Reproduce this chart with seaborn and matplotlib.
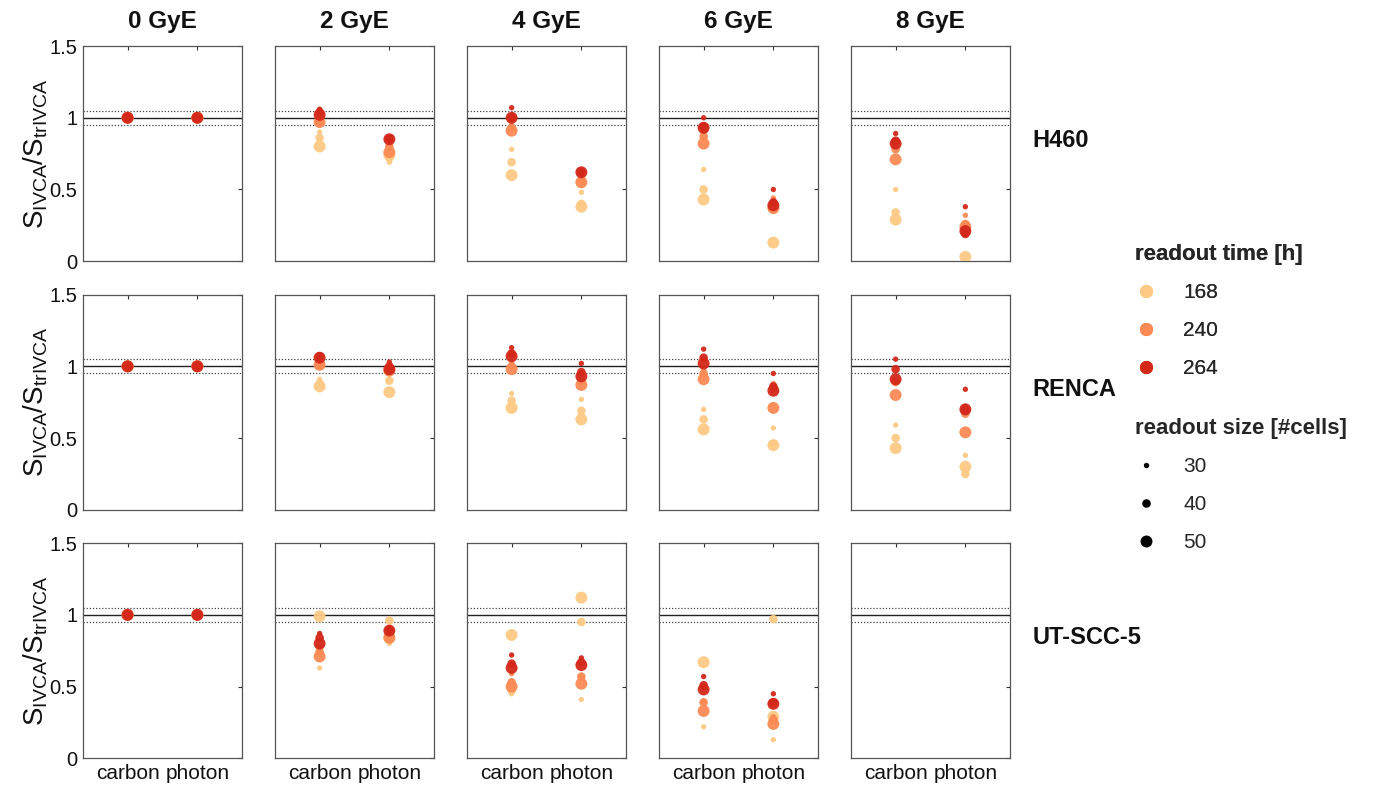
import numpy as np
import pandas as pd
import matplotlib
matplotlib.use("Agg")
import matplotlib.pyplot as plt
from matplotlib.lines import Line2D
import seaborn as sns

# ---- data -------------------------------------------------------------
doses = [0, 2, 4, 6, 8]
dose_labels = ["0 GyE", "2 GyE", "4 GyE", "6 GyE", "8 GyE"]
cell_lines = ["H460", "RENCA", "UT-SCC-5"]
radiations = ["carbon", "photon"]
readout_times = [168, 240, 264]
readout_sizes = [30, 40, 50]

# each list: 9 ratios ordered time 168 (30, 40, 50 cells), 240 (...), 264 (...)
ref = [1.0] * 9

h460_carbon = [ref,
               [0.90, 0.86, 0.80, 0.98, 0.97, 0.97, 1.06, 1.04, 1.02],
               [0.78, 0.69, 0.60, 0.95, 0.93, 0.91, 1.07, 1.00, 1.00],
               [0.64, 0.50, 0.43, 0.90, 0.87, 0.82, 1.00, 0.94, 0.93],
               [0.50, 0.34, 0.29, 0.80, 0.78, 0.71, 0.89, 0.84, 0.82]]
h460_photon = [ref,
               [0.69, 0.72, 0.74, 0.78, 0.80, 0.76, 0.85, 0.85, 0.85],
               [0.48, 0.40, 0.38, 0.57, 0.56, 0.55, 0.63, 0.62, 0.62],
               [0.40, 0.37, 0.13, 0.44, 0.38, 0.37, 0.50, 0.41, 0.39],
               [0.25, 0.23, 0.03, 0.32, 0.26, 0.24, 0.38, 0.19, 0.21]]
renca_carbon = [ref,
                [0.91, 0.88, 0.86, 1.02, 1.01, 1.01, 1.08, 1.07, 1.06],
                [0.81, 0.76, 0.71, 1.02, 1.00, 0.98, 1.13, 1.09, 1.07],
                [0.70, 0.63, 0.56, 0.98, 0.95, 0.91, 1.12, 1.06, 1.02],
                [0.59, 0.50, 0.43, 0.90, 0.89, 0.80, 1.05, 0.98, 0.91]]
renca_photon = [ref,
                [0.90, 0.90, 0.82, 0.96, 0.97, 0.97, 1.03, 1.00, 0.98],
                [0.77, 0.69, 0.63, 0.96, 0.90, 0.87, 1.02, 0.96, 0.93],
                [0.57, 0.46, 0.45, 0.88, 0.85, 0.71, 0.95, 0.86, 0.83],
                [0.38, 0.25, 0.30, 0.72, 0.67, 0.54, 0.84, 0.70, 0.70]]
utscc5_carbon = [ref,
                 [0.63, 0.77, 0.99, 0.78, 0.74, 0.71, 0.87, 0.84, 0.80],
                 [0.45, 0.47, 0.86, 0.59, 0.53, 0.50, 0.72, 0.66, 0.63],
                 [0.22, 0.49, 0.67, 0.40, 0.39, 0.33, 0.57, 0.51, 0.48],
                 None]
utscc5_photon = [ref,
                 [0.80, 0.96, 0.84, 0.86, 0.85, 0.84, 0.91, 0.89, 0.89],
                 [0.41, 0.95, 1.12, 0.57, 0.57, 0.52, 0.70, 0.67, 0.65],
                 [0.13, 0.97, 0.29, 0.29, 0.27, 0.24, 0.45, 0.39, 0.38],
                 None]

series = {("H460", "carbon"): h460_carbon, ("H460", "photon"): h460_photon,
          ("RENCA", "carbon"): renca_carbon, ("RENCA", "photon"): renca_photon,
          ("UT-SCC-5", "carbon"): utscc5_carbon, ("UT-SCC-5", "photon"): utscc5_photon}

rows = []
for (line, rad), per_dose in series.items():
    for dose, vals in zip(doses, per_dose):
        if vals is None:
            continue
        k = 0
        for t in readout_times:
            for s in readout_sizes:
                rows.append(dict(line=line, radiation=rad, dose=dose,
                                 time=t, cells=s, ratio=vals[k],
                                 xpos=radiations.index(rad) + 1))
                k += 1
df = pd.DataFrame(rows).sort_values(["time", "cells"], kind="stable")

# ---- styling ------------------------------------------------------------
sns.set_theme(style="white")
plt.rcParams["font.family"] = ["Liberation Sans", "DejaVu Sans"]
plt.rcParams["mathtext.default"] = "regular"

palette = {168: "#fdca85", 240: "#fb8a55", 264: "#d3281a"}
size_map = {30: 15, 40: 38, 50: 74}
axis_col = "#333333"

fig, axes = plt.subplots(3, 5, figsize=(13.83, 7.91), dpi=100)
fig.subplots_adjust(left=0.060, right=0.7303, top=0.9418, bottom=0.0413,
                    wspace=0.2075, hspace=0.155)

for r, line in enumerate(cell_lines):
    for c, dose in enumerate(doses):
        ax = axes[r, c]
        sub = df[(df["line"] == line) & (df["dose"] == dose)]
        ax.axhline(1.0, color="#222222", lw=1.0, zorder=1)
        for yy in (1.05, 0.95):
            ax.axhline(yy, color="#444444", lw=0.9, ls=(0, (1, 1.5)), zorder=1)
        if len(sub):
            sns.scatterplot(data=sub, x="xpos", y="ratio", hue="time",
                            size="cells", palette=palette, sizes=size_map,
                            hue_order=readout_times, size_order=readout_sizes,
                            linewidth=0, alpha=0.95, legend=False, ax=ax,
                            zorder=3)
        ax.set_xlim(0.36, 2.64)
        ax.set_ylim(0, 1.5)
        ax.set_xticks([1, 2])
        ax.set_yticks([0, 0.5, 1, 1.5])
        ax.set_xlabel("")
        ax.set_ylabel("")
        ax.tick_params(direction="in", length=3, width=0.8, colors=axis_col,
                       top=True, right=True, labelsize=14.5, pad=4,
                       labelcolor="#111111")
        ax.tick_params(axis="x", labelsize=15)
        for sp in ax.spines.values():
            sp.set_color("#555555")
            sp.set_linewidth(0.9)
        if r == 2:
            ax.set_xticklabels(radiations)
        else:
            ax.set_xticklabels([])
        if c == 0:
            ax.set_yticklabels(["0", "0.5", "1", "1.5"])
            ax.set_ylabel("S$_{IVCA}$/S$_{trIVCA}$", fontsize=20,
                          labelpad=0, color="#111111")
        else:
            ax.set_yticklabels([])
        if r == 0:
            ax.set_title(dose_labels[c], fontsize=17.5, fontweight="bold",
                         pad=13, color="#111111")
        if c == 4:
            ax.text(1.14, 0.56, line, transform=ax.transAxes, ha="left",
                    va="center", fontsize=17, fontweight="bold",
                    color="#111111")

# ---- legends ------------------------------------------------------------
time_handles = [Line2D([], [], ls="", marker="o", markersize=9.5,
                       markerfacecolor=palette[t], markeredgewidth=0)
                for t in readout_times]
size_handles = [Line2D([], [], ls="", marker="o",
                       markersize=np.sqrt(size_map[s]),
                       markerfacecolor="black", markeredgewidth=0)
                for s in readout_sizes]

common = dict(loc="upper left", frameon=False, fontsize=15,
              title_fontproperties={"weight": "bold", "size": 16},
              alignment="left", labelspacing=0.9, handlelength=1.0,
              handletextpad=1.3, borderaxespad=0, borderpad=0)
leg1 = fig.legend(time_handles, [str(t) for t in readout_times],
                  title="readout time [h]", bbox_to_anchor=(0.821, 0.692),
                  **common)
fig.add_artist(leg1)
fig.legend(size_handles, [str(s) for s in readout_sizes],
           title="readout size [#cells]", bbox_to_anchor=(0.821, 0.472),
           **common)

fig.savefig("out.png", dpi=100)
